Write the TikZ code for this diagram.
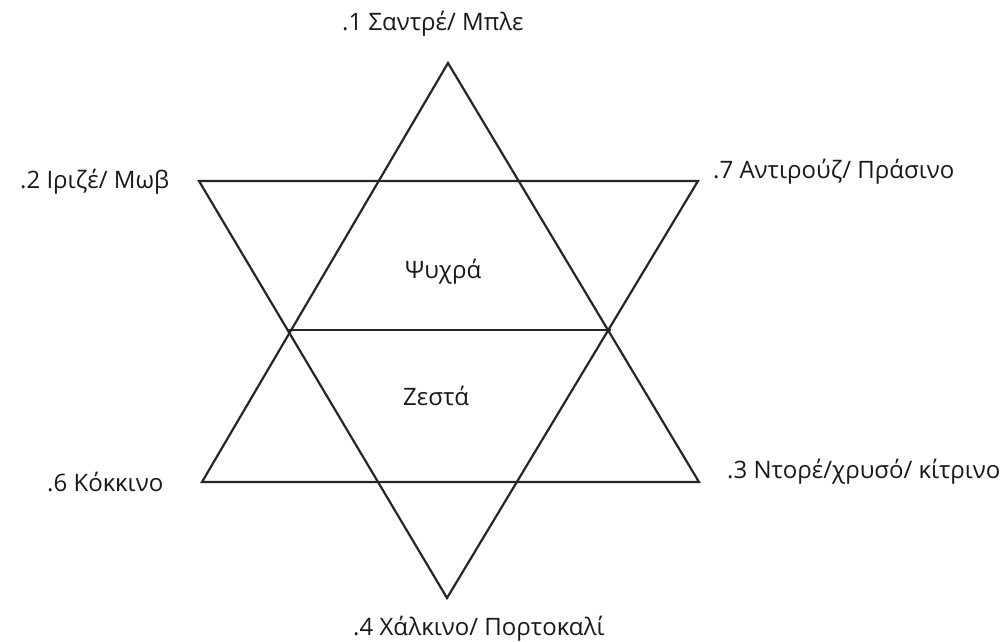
\documentclass[tikz,border=0pt]{standalone}
\usepackage{fontspec}
\setmainfont{Open Sans}
\begin{document}
\begin{tikzpicture}[x=1pt,y=-1pt,
  edge/.style={line width=2.2pt,draw=black!85,line join=miter},
  lbl/.style={anchor=base west,inner sep=0pt,font=\fontsize{24}{28}\selectfont,text=black!90}]
\useasboundingbox (0,0) rectangle (1005,642);
% vertices
\coordinate (T) at (448,63);
\coordinate (B) at (447,598);
\coordinate (UL) at (199,181);
\coordinate (UR) at (698,181);
\coordinate (LL) at (202,482);
\coordinate (LR) at (699,482);
\coordinate (ML) at (288,330);
\coordinate (MR) at (611,330);
% triangles
\draw[edge] (UL) -- (UR) -- (B) -- cycle;
\draw[edge] (T) -- (LR) -- (LL) -- cycle;
\draw[edge] (ML) -- (MR);
% labels
\node[lbl] (l1) at (342,31) {.1 Σαντρέ/ Μπλε};
\node[lbl] (l2) at (20,188) {.2 Ιριζέ/ Μωβ};
\node[lbl] (l7) at (713,178) {.7 Αντιρούζ/ Πράσινο};
\node[lbl] (l6) at (47,491) {.6 Κόκκινο};
\node[lbl] (l3) at (727,478) {.3 Ντορέ/χρυσό/ κίτρινο};
\node[lbl] (l4) at (353,635) {.4 Χάλκινο/ Πορτοκαλί};
\node[lbl] (cold) at (405,278) {Ψυχρά};
\node[lbl] (warm) at (403,405) {Ζεστά};
\end{tikzpicture}
\end{document}
